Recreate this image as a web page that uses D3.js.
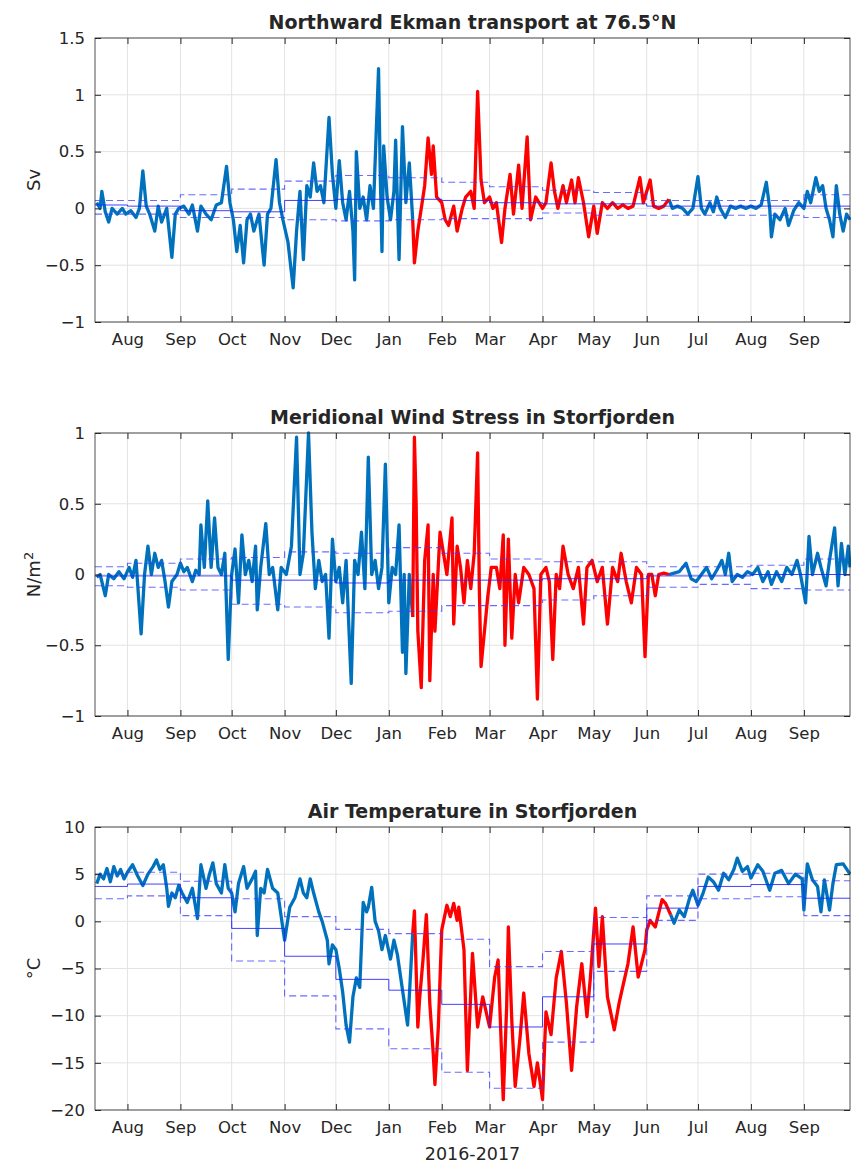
<!DOCTYPE html>
<html>
<head>
<meta charset="utf-8">
<script src="https://d3js.org/d3.v7.min.js"></script>
<style>
  body { margin: 0; background: #fff; }
  text { font-family: "DejaVu Sans", sans-serif; fill: #262626; }
</style>
</head>
<body>
<svg id="chart" width="851" height="1169"></svg>
<script>
// month starts Jul 2016 .. Sep 2017, used for the monthly mean / std steps
const monthStarts = d3.timeMonths(new Date(2016, 6, 1), new Date(2017, 9, 1));
const monthTicks = d3.timeMonths(new Date(2016, 7, 1), new Date(2017, 9, 1));

const ekmanMean = [0.03, 0.02, -0.02, -0.03, 0.07, 0.08, 0.08, 0.07, 0.05, 0.04, 0.04, 0.02, 0.02, 0.02, 0.02];
const ekmanUp = [0.07, 0.07, 0.12, 0.17, 0.24, 0.29, 0.27, 0.23, 0.19, 0.16, 0.14, 0.07, 0.07, 0.07, 0.12];
const ekmanLo = [-0.05, -0.05, -0.08, -0.08, -0.1, -0.11, -0.1, -0.09, -0.09, -0.04, -0.06, -0.06, -0.06, -0.06, -0.08];

const windMean = [-0.01, -0.01, -0.01, -0.04, -0.04, -0.06, -0.04, -0.04, -0.04, -0.03, -0.03, -0.01, -0.01, 0.0, 0.0];
const windUp = [0.055, 0.08, 0.11, 0.12, 0.16, 0.15, 0.19, 0.15, 0.11, 0.09, 0.09, 0.055, 0.055, 0.065, 0.11];
const windLo = [-0.08, -0.09, -0.11, -0.21, -0.23, -0.27, -0.26, -0.22, -0.22, -0.18, -0.15, -0.09, -0.07, -0.1, -0.11];

const tempMean = [3.7, 3.95, 2.5, -0.75, -3.7, -6.15, -7.3, -8.8, -11.2, -8.0, -2.4, 1.4, 3.7, 3.9, 2.45];
const tempUp = [5.0, 5.2, 4.25, 2.4, 0.5, -0.85, -1.3, -1.9, -4.8, -3.2, 0.4, 2.7, 5.0, 5.1, 4.3];
const tempLo = [2.4, 2.7, 0.6, -4.2, -7.9, -11.4, -13.5, -16.0, -17.7, -12.8, -5.3, 0.1, 2.4, 2.6, 0.6];

const ekman = [
  ["16-07-14",0.05],["16-07-16",0.0],["16-07-17",0.15],["16-07-19",-0.03],["16-07-21",-0.12],["16-07-23",0.0],["16-07-26",-0.05],["16-07-29",0.0],["16-07-31",-0.05],
  ["16-08-03",-0.02],["16-08-06",-0.08],["16-08-08",0.0],["16-08-10",0.33],["16-08-12",0.02],["16-08-14",-0.05],["16-08-17",-0.2],["16-08-19",0.02],["16-08-21",-0.12],["16-08-24",0.0],["16-08-27",-0.43],["16-08-29",-0.05],["16-08-31",0.0],
  ["16-09-03",0.02],["16-09-06",-0.05],["16-09-08",0.03],["16-09-11",-0.2],["16-09-13",0.02],["16-09-16",-0.05],["16-09-19",-0.1],["16-09-22",0.03],["16-09-25",0.05],["16-09-28",0.37],["16-09-30",0.05],
  ["16-10-02",-0.1],["16-10-04",-0.38],["16-10-06",-0.15],["16-10-08",-0.48],["16-10-10",-0.1],["16-10-12",-0.05],["16-10-14",-0.2],["16-10-17",-0.05],["16-10-20",-0.5],["16-10-22",-0.05],["16-10-24",0.0],["16-10-27",0.43],["16-10-29",0.05],["16-10-31",-0.1],
  ["16-11-03",-0.3],["16-11-06",-0.7],["16-11-08",-0.2],["16-11-10",0.15],["16-11-12",-0.45],["16-11-14",0.2],["16-11-16",0.1],["16-11-18",0.4],["16-11-20",0.15],["16-11-22",0.2],["16-11-24",0.05],["16-11-27",0.8],["16-11-29",0.3],
  ["16-12-01",0.0],["16-12-03",0.42],["16-12-05",0.05],["16-12-07",-0.1],["16-12-09",0.15],["16-12-11",-0.2],["16-12-12",-0.63],["16-12-13",0.5],["16-12-15",0.0],["16-12-17",0.1],["16-12-19",-0.1],["16-12-21",0.2],["16-12-23",0.0],["16-12-26",1.23],["16-12-27",0.3],["16-12-28",-0.38],["16-12-29",0.55],["16-12-31",0.1],
  ["17-01-02",-0.1],["17-01-04",0.15],["17-01-05",0.6],["17-01-07",-0.45],["17-01-09",0.72],["17-01-11",0.05],["17-01-13",0.4],["17-01-15",-0.1],
  ["17-01-16",-0.48],["17-01-18",-0.2],["17-01-20",0.0],["17-01-22",0.2],["17-01-24",0.62],["17-01-26",0.3],["17-01-27",0.55],["17-01-29",0.1],["17-02-01",0.05],["17-02-03",-0.1],["17-02-05",-0.15],["17-02-08",0.02],["17-02-10",-0.2],["17-02-13",0.0],["17-02-15",0.1],["17-02-18",0.15],["17-02-20",0.0],["17-02-22",1.03],["17-02-24",0.25],["17-02-26",0.05],
  ["17-03-01",0.1],["17-03-03",0.0],["17-03-05",0.05],["17-03-08",-0.3],["17-03-10",0.0],["17-03-13",0.3],["17-03-15",-0.05],["17-03-18",0.38],["17-03-20",0.0],["17-03-23",0.63],["17-03-25",-0.1],["17-03-28",0.1],
  ["17-04-01",0.0],["17-04-03",0.05],["17-04-06",0.4],["17-04-08",0.15],["17-04-10",0.0],["17-04-13",0.2],["17-04-15",0.05],["17-04-18",0.25],["17-04-20",0.05],["17-04-22",0.27],["17-04-25",0.05],["17-04-28",-0.25],
  ["17-05-01",0.02],["17-05-03",-0.22],["17-05-06",0.05],["17-05-09",0.0],["17-05-12",0.05],["17-05-15",0.0],["17-05-18",0.03],["17-05-21",0.0],["17-05-24",0.02],["17-05-28",0.27],["17-05-30",0.05],
  ["17-06-03",0.25],["17-06-05",0.02],["17-06-08",0.0],["17-06-11",0.02],["17-06-14",0.08],
  ["17-06-16",0.0],["17-06-19",0.02],["17-06-22",0.0],["17-06-25",-0.05],["17-06-28",0.0],["17-07-01",0.28],["17-07-03",0.0],["17-07-05",-0.05],["17-07-08",0.05],["17-07-10",-0.03],["17-07-12",0.1],["17-07-14",0.0],["17-07-17",-0.08],["17-07-20",0.02],["17-07-23",0.0],["17-07-26",0.02],["17-07-29",0.0],
  ["17-08-01",0.02],["17-08-04",0.0],["17-08-07",0.03],["17-08-10",0.23],["17-08-12",0.0],["17-08-13",-0.25],["17-08-15",-0.05],["17-08-18",-0.1],["17-08-21",0.0],["17-08-23",-0.15],["17-08-26",-0.02],["17-08-29",0.05],
  ["17-09-01",0.0],["17-09-03",0.15],["17-09-05",0.05],["17-09-08",0.27],["17-09-10",0.15],["17-09-12",0.2],["17-09-14",0.0],["17-09-16",-0.1],["17-09-18",-0.25],["17-09-20",0.2],["17-09-22",-0.05],["17-09-24",-0.2],["17-09-26",-0.05],["17-09-28",-0.1]
];

const wind = [
  ["16-07-14",-0.02],["16-07-16",0.0],["16-07-19",-0.15],["16-07-21",0.0],["16-07-24",-0.03],["16-07-27",0.02],["16-07-30",-0.03],
  ["16-08-02",0.05],["16-08-04",-0.02],["16-08-06",0.1],["16-08-09",-0.42],["16-08-11",0.0],["16-08-13",0.2],["16-08-15",0.0],["16-08-17",0.15],["16-08-19",0.05],["16-08-21",0.1],["16-08-23",-0.05],["16-08-25",-0.23],["16-08-27",-0.05],["16-08-30",0.0],
  ["16-09-01",0.08],["16-09-03",0.02],["16-09-05",0.05],["16-09-08",-0.05],["16-09-10",0.03],["16-09-12",0.0],["16-09-13",0.35],["16-09-15",0.05],["16-09-17",0.52],["16-09-19",0.05],["16-09-21",0.4],["16-09-23",0.05],["16-09-25",0.0],["16-09-27",0.15],["16-09-29",-0.6],
  ["16-10-01",0.0],["16-10-03",0.18],["16-10-05",-0.2],["16-10-07",0.28],["16-10-09",0.0],["16-10-11",0.1],["16-10-13",-0.05],["16-10-15",0.2],["16-10-16",-0.25],["16-10-18",0.05],["16-10-21",0.36],["16-10-23",0.0],["16-10-25",0.05],["16-10-28",-0.25],["16-10-30",0.05],
  ["16-11-02",0.0],["16-11-05",0.2],["16-11-08",0.97],["16-11-10",0.0],["16-11-12",0.15],["16-11-15",1.0],["16-11-17",0.3],["16-11-19",-0.1],["16-11-21",0.1],["16-11-23",-0.05],["16-11-25",0.0],["16-11-27",-0.45],["16-11-29",0.25],
  ["16-12-01",-0.05],["16-12-03",0.05],["16-12-05",-0.2],["16-12-07",0.1],["16-12-10",-0.77],["16-12-12",0.1],["16-12-14",0.0],["16-12-16",0.3],["16-12-18",-0.1],["16-12-20",0.83],["16-12-22",0.0],["16-12-24",0.1],["16-12-26",-0.1],["16-12-28",0.05],["16-12-30",0.78],
  ["17-01-01",-0.2],["17-01-03",0.05],["17-01-05",0.0],["17-01-07",0.35],["17-01-09",-0.55],["17-01-10",0.0],["17-01-11",-0.7],["17-01-13",0.0],["17-01-15",-0.3],
  ["17-01-16",0.97],["17-01-17",0.5],["17-01-18",-0.4],["17-01-20",-0.8],["17-01-22",0.1],["17-01-24",0.35],["17-01-25",-0.75],["17-01-27",0.0],["17-01-28",-0.4],["17-01-31",0.3],
  ["17-02-02",0.15],["17-02-04",0.0],["17-02-07",0.4],["17-02-08",-0.35],["17-02-10",0.2],["17-02-12",0.05],["17-02-14",-0.2],["17-02-16",0.1],["17-02-18",-0.1],["17-02-20",0.15],["17-02-22",0.86],["17-02-23",-0.1],["17-02-24",-0.65],["17-02-26",-0.4],["17-02-28",-0.15],
  ["17-03-02",0.05],["17-03-05",0.05],["17-03-07",-0.1],["17-03-09",0.28],["17-03-10",-0.5],["17-03-12",0.25],["17-03-14",-0.45],["17-03-16",0.0],["17-03-18",-0.2],["17-03-21",0.05],["17-03-24",0.0],["17-03-27",-0.1],["17-03-29",-0.88],["17-03-31",0.0],
  ["17-04-03",0.05],["17-04-05",-0.05],["17-04-07",-0.6],["17-04-09",0.0],["17-04-11",-0.1],["17-04-13",0.2],["17-04-16",0.0],["17-04-19",-0.1],["17-04-22",0.05],["17-04-25",-0.35],["17-04-27",0.05],["17-04-30",0.1],
  ["17-05-03",-0.05],["17-05-06",0.05],["17-05-09",-0.35],["17-05-12",0.05],["17-05-15",-0.05],["17-05-17",0.15],["17-05-20",-0.05],["17-05-23",-0.2],["17-05-26",0.05],["17-05-29",0.0],["17-05-31",-0.58],
  ["17-06-02",0.0],["17-06-04",0.0],["17-06-06",-0.15],["17-06-08",0.0],["17-06-11",0.01],["17-06-14",0.0],
  ["17-06-17",0.01],["17-06-20",0.02],["17-06-24",0.08],["17-06-27",-0.03],["17-06-30",-0.05],["17-07-03",0.0],["17-07-06",0.05],["17-07-09",-0.03],["17-07-12",0.03],["17-07-15",0.1],["17-07-17",0.0],["17-07-19",0.15],["17-07-21",-0.05],["17-07-24",0.0],["17-07-27",-0.02],["17-07-30",0.02],
  ["17-08-02",0.0],["17-08-05",0.05],["17-08-08",-0.05],["17-08-11",0.02],["17-08-13",-0.07],["17-08-16",0.02],["17-08-19",-0.05],["17-08-22",0.05],["17-08-25",0.0],["17-08-28",0.1],["17-08-30",0.0],
  ["17-09-02",-0.2],["17-09-04",0.27],["17-09-06",0.0],["17-09-09",0.15],["17-09-11",0.05],["17-09-14",-0.08],["17-09-16",0.1],["17-09-19",0.33],["17-09-21",-0.08],["17-09-23",0.22],["17-09-25",0.0],["17-09-27",0.2],["17-09-28",0.05]
];

const temp = [
  ["16-07-14",4.0],["16-07-16",5.0],["16-07-18",4.5],["16-07-20",5.6],["16-07-22",4.2],["16-07-24",5.8],["16-07-26",4.8],["16-07-28",5.5],["16-07-30",4.5],
  ["16-08-01",5.2],["16-08-04",6.0],["16-08-07",4.8],["16-08-10",3.8],["16-08-13",5.0],["16-08-16",5.8],["16-08-18",6.5],["16-08-20",5.5],["16-08-22",6.0],["16-08-24",3.5],["16-08-25",1.6],["16-08-27",3.0],["16-08-29",2.5],["16-08-31",3.8],
  ["16-09-02",3.0],["16-09-05",2.0],["16-09-08",3.5],["16-09-11",0.3],["16-09-13",6.0],["16-09-16",3.5],["16-09-18",5.0],["16-09-20",6.2],["16-09-22",4.0],["16-09-25",3.0],["16-09-27",6.0],["16-09-29",3.5],
  ["16-10-01",3.0],["16-10-03",1.0],["16-10-05",4.0],["16-10-08",5.8],["16-10-10",3.5],["16-10-13",4.5],["16-10-15",5.3],["16-10-16",-1.5],["16-10-18",3.5],["16-10-20",3.0],["16-10-22",5.5],["16-10-25",3.5],["16-10-28",3.0],["16-10-30",0.5],
  ["16-11-01",-2.0],["16-11-04",1.5],["16-11-07",2.5],["16-11-10",4.5],["16-11-12",3.0],["16-11-14",2.5],["16-11-16",4.5],["16-11-18",3.0],["16-11-21",1.0],["16-11-23",0.0],["16-11-26",-2.0],["16-11-27",-4.5],["16-11-29",-2.5],
  ["16-12-01",-3.0],["16-12-03",-5.0],["16-12-05",-7.5],["16-12-07",-11.0],["16-12-09",-12.8],["16-12-11",-8.0],["16-12-13",-6.0],["16-12-15",-7.0],["16-12-17",2.0],["16-12-19",1.0],["16-12-20",1.5],["16-12-22",3.6],["16-12-24",0.0],["16-12-26",-1.0],["16-12-28",-3.0],["16-12-30",-1.5],
  ["17-01-02",-4.0],["17-01-04",-2.0],["17-01-06",-3.5],["17-01-08",-6.0],["17-01-10",-8.5],["17-01-12",-11.0],["17-01-13",-8.0],["17-01-15",-1.3],
  ["17-01-16",1.1],["17-01-18",-11.2],["17-01-19",-8.3],["17-01-21",-4.1],["17-01-23",0.7],["17-01-25",-8.7],["17-01-27",-14.0],["17-01-28",-17.3],["17-01-30",-11.2],
  ["17-02-01",-0.9],["17-02-04",1.7],["17-02-06",0.5],["17-02-08",1.9],["17-02-10",0.1],["17-02-11",1.5],["17-02-14",-3.0],["17-02-16",-15.8],["17-02-19",-3.4],["17-02-22",-11.2],["17-02-25",-8.0],
  ["17-03-01",-11.2],["17-03-04",-5.9],["17-03-06",-4.1],["17-03-09",-18.9],["17-03-11",-9.0],["17-03-12",-0.6],["17-03-14",-10.5],["17-03-16",-17.5],["17-03-19",-12.0],["17-03-21",-7.6],["17-03-24",-14.0],["17-03-27",-17.5],["17-03-29",-15.0],
  ["17-04-01",-18.9],["17-04-03",-9.6],["17-04-06",-12.0],["17-04-09",-6.0],["17-04-12",-3.2],["17-04-15",-8.7],["17-04-18",-15.8],["17-04-21",-9.0],["17-04-24",-4.5],["17-04-27",-10.1],["17-04-29",-6.0],
  ["17-05-02",1.4],["17-05-04",-4.8],["17-05-06",0.5],["17-05-09",-8.0],["17-05-13",-11.5],["17-05-16",-8.5],["17-05-18",-6.9],["17-05-21",-4.5],["17-05-24",-0.6],["17-05-27",-5.9],["17-05-31",-3.0],
  ["17-06-01",-0.9],["17-06-03",0.1],["17-06-06",-0.6],["17-06-10",2.3],["17-06-12",1.9],["17-06-15",0.7],
  ["17-06-17",-0.2],["17-06-20",1.2],["17-06-23",0.5],["17-06-26",2.4],["17-06-28",3.3],["17-07-01",1.7],["17-07-04",3.0],["17-07-07",4.7],["17-07-10",4.2],["17-07-13",3.3],["17-07-16",5.1],["17-07-19",4.4],["17-07-22",5.5],["17-07-24",6.7],["17-07-27",5.3],["17-07-30",5.8],
  ["17-08-01",4.6],["17-08-05",6.0],["17-08-08",5.3],["17-08-12",3.3],["17-08-15",5.1],["17-08-19",5.4],["17-08-23",4.0],["17-08-27",5.0],["17-08-31",4.5],
  ["17-09-01",1.2],["17-09-03",6.1],["17-09-06",4.4],["17-09-09",3.7],["17-09-11",1.0],["17-09-13",4.4],["17-09-16",1.2],["17-09-18",4.0],["17-09-20",6.0],["17-09-24",6.1],["17-09-28",5.0]
];

const parse = d3.timeParse("%y-%m-%d");
const redStart = parse("17-01-15");
const xStart = parse("16-07-13"), xEnd = parse("17-09-28");

const svg = d3.select("#chart");
const left = 95, right = 850;
const x = d3.scaleTime().domain([xStart, xEnd]).range([left, right]);

const panels = [
  { title: "Northward Ekman transport at 76.5°N", ylab: "Sv", top: 38, bottom: 322, dom: [-1, 1.5], ticks: d3.range(-1, 1.51, 0.5),
    data: ekman, mean: ekmanMean, up: ekmanUp, lo: ekmanLo, redEnd: parse("17-06-15") },
  { title: "Meridional Wind Stress in Storfjorden", ylab: "N/m2", top: 433, bottom: 716, dom: [-1, 1], ticks: d3.range(-1, 1.01, 0.5),
    data: wind, mean: windMean, up: windUp, lo: windLo, redEnd: parse("17-06-14") },
  { title: "Air Temperature in Storfjorden", ylab: "°C", top: 827, bottom: 1110, dom: [-20, 10], ticks: d3.range(-20, 10.1, 5),
    data: temp, mean: tempMean, up: tempUp, lo: tempLo, redEnd: parse("17-06-15") }
];

const fmt = v => (Math.abs(v) < 1e-9 ? "0" : d3.format("~g")(+v.toFixed(2)));

panels.forEach(p => {
  const y = d3.scaleLinear().domain(p.dom).range([p.bottom, p.top]);
  const g = svg.append("g");
  const pts = p.data.map(d => ({ t: parse(d[0]), v: d[1] }));

  // grid
  g.selectAll(".gx").data(monthTicks).enter().append("line")
    .attr("x1", d => x(d)).attr("x2", d => x(d)).attr("y1", p.top).attr("y2", p.bottom)
    .attr("stroke", "#e3e3e3").attr("stroke-width", 1);
  g.selectAll(".gy").data(p.ticks).enter().append("line")
    .attr("x1", left).attr("x2", right).attr("y1", d => y(d)).attr("y2", d => y(d))
    .attr("stroke", "#e3e3e3").attr("stroke-width", 1);

  const line = d3.line().x(d => x(d.t)).y(d => y(d.v));
  const before = pts.filter(d => d.t <= redStart);
  const red = pts.filter(d => d.t >= redStart && d.t <= p.redEnd);
  const after = pts.filter(d => d.t >= p.redEnd);
  // join segments
  red.unshift(before[before.length - 1]);
  after.unshift(red[red.length - 1]);

  [[before, "#0072BD"], [after, "#0072BD"], [red, "#FF0000"]].forEach(([seg, c]) => {
    g.append("path").datum(seg).attr("d", line).attr("fill", "none")
      .attr("stroke", c).attr("stroke-width", 3.3).attr("stroke-linejoin", "round");
  });

  // monthly mean and +/- std steps
  const step = arr => {
    const s = arr.map((v, i) => ({ t: i === 0 ? xStart : monthStarts[i], v }));
    s.push({ t: xEnd, v: arr[arr.length - 1] });
    return s;
  };
  const stepLine = d3.line().curve(d3.curveStepAfter).x(d => x(d.t)).y(d => y(d.v));
  g.append("path").datum(step(p.mean)).attr("d", stepLine).attr("fill", "none")
    .attr("stroke", "#2020ff").attr("stroke-opacity", 0.85).attr("stroke-width", 1);
  [p.up, p.lo].forEach(arr => {
    g.append("path").datum(step(arr)).attr("d", stepLine).attr("fill", "none")
      .attr("stroke", "#3a3aff").attr("stroke-opacity", 0.75).attr("stroke-width", 1.1)
      .attr("stroke-dasharray", "7,4");
  });

  // box
  g.append("rect").attr("x", left).attr("y", p.top).attr("width", right - left).attr("height", p.bottom - p.top)
    .attr("fill", "none").attr("stroke", "#262626").attr("stroke-width", 0.8);

  // axes
  const ax = g.append("g").attr("transform", `translate(0,${p.bottom})`)
    .call(d3.axisBottom(x).tickValues(monthTicks).tickFormat(d3.timeFormat("%b")).tickSize(-6).tickPadding(11));
  const axTop = g.append("g").attr("transform", `translate(0,${p.top})`)
    .call(d3.axisTop(x).tickValues(monthTicks).tickFormat("").tickSize(-6));
  const ay = g.append("g").attr("transform", `translate(${left},0)`)
    .call(d3.axisLeft(y).tickValues(p.ticks).tickFormat(fmt).tickSize(-6).tickPadding(10));
  const ayR = g.append("g").attr("transform", `translate(${right},0)`)
    .call(d3.axisRight(y).tickValues(p.ticks).tickFormat("").tickSize(-6));
  [ax, axTop, ay, ayR].forEach(a => {
    a.select(".domain").remove();
    a.selectAll("line").attr("stroke", "#262626");
    a.selectAll("text").attr("font-size", 16.5).attr("fill", "#262626");
  });

  g.append("text").attr("x", (left + right) / 2).attr("y", p.top - 9).attr("text-anchor", "middle")
    .attr("font-size", 19).attr("font-weight", "bold").attr("fill", "#000").text(p.title);

  const yl = g.append("text").attr("transform", `translate(40,${(p.top + p.bottom) / 2}) rotate(-90)`)
    .attr("text-anchor", "middle").attr("font-size", 18);
  if (p.ylab === "N/m2") {
    yl.append("tspan").text("N/m");
    yl.append("tspan").attr("dy", -7).attr("font-size", 13).text("2");
  } else {
    yl.text(p.ylab);
  }
});

svg.append("text").attr("x", (left + right) / 2).attr("y", 1160).attr("text-anchor", "middle")
  .attr("font-size", 17.5).text("2016-2017");
</script>
</body>
</html>
